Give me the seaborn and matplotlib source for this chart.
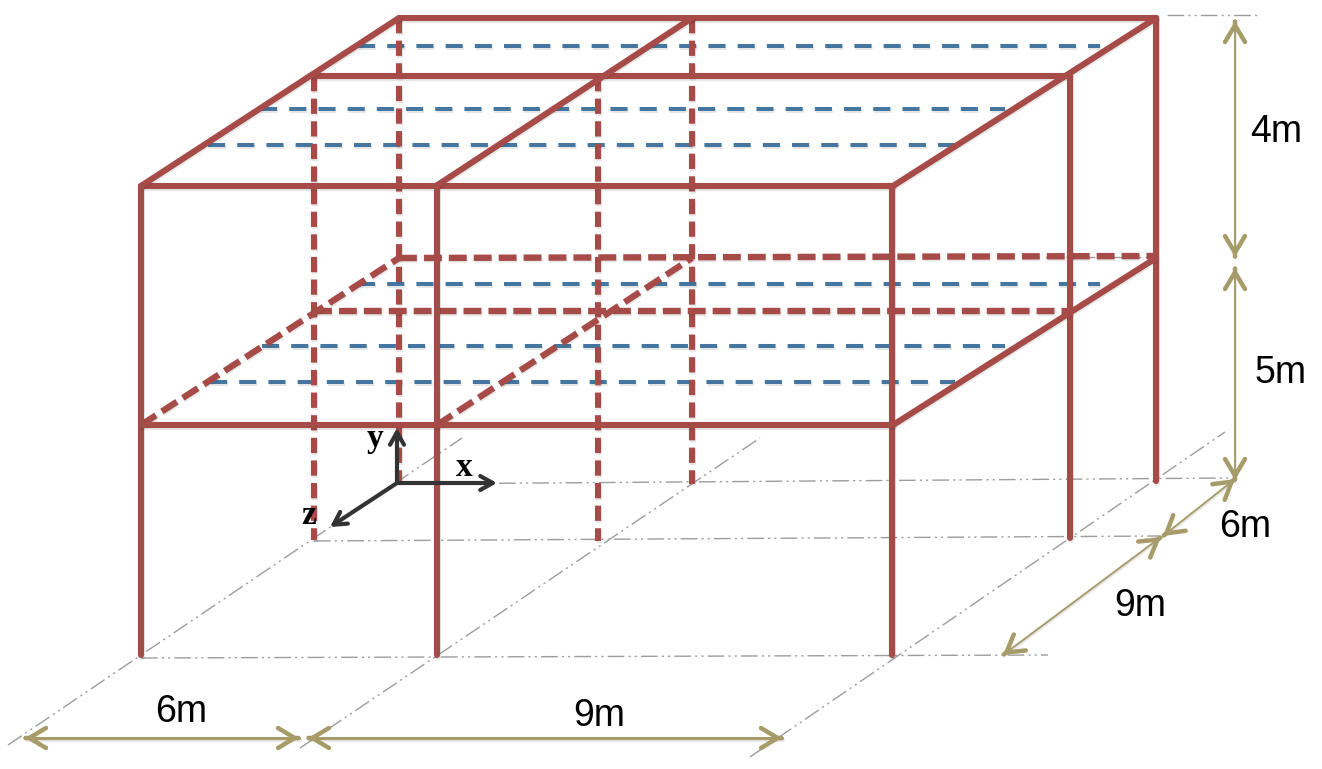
import matplotlib
matplotlib.use("Agg")
import matplotlib.pyplot as plt
import matplotlib.patheffects as pe
import pandas as pd
import seaborn as sns

# members, pixel positions as (x1, y1, x2, y2)
solid_members = [
    (399, 18, 1156, 18), (314, 76, 1070, 76), (141, 186, 893, 186),
    (141, 186, 399, 18), (436, 186, 692, 18), (893, 186, 1156, 18),
    (141, 186, 141, 655), (437, 186, 437, 655), (892, 186, 892, 655),
    (1070, 76, 1070, 538), (1156, 18, 1156, 481),
    (141, 425, 893, 425), (893, 425, 1156, 258),
]
hidden_columns = [
    (314, 76, 314, 540), (399, 18, 399, 482),
    (598, 76, 598, 541), (692, 18, 692, 484),
]
hidden_beams = [
    (399, 258, 1156, 256), (314, 311, 1070, 311),
    (141, 425, 399, 258), (437, 425, 692, 258),
]
secondary_beams = [
    (358, 46, 1100, 46), (260, 109, 1005, 109), (208, 145, 955, 145),
    (358, 284, 1100, 284), (262, 346, 1005, 346), (210, 382, 955, 382),
]
grid_lines = [
    (399, 484, 1230, 478), (314, 541, 1160, 536), (141, 658, 1048, 655),
    (8, 745, 462, 438), (300, 748, 760, 438), (750, 757, 1225, 432),
    (1167, 15, 1258, 15), (1045, 257, 1156, 257),
]
thin_dims = [(1235, 21, 1235, 257), (1235, 268, 1235, 480),
             (1235, 479, 1163, 536), (1161, 537, 1003, 655)]
thick_dims = [(25, 738, 299, 738), (308, 738, 782, 738)]
axis_arrows = [(397, 483, 397, 428), (397, 483, 497, 483), (397, 483, 330, 527)]

dim_labels = ["4m", "5m", "6m", "9m", "6m", "9m"]
dim_label_x = [1276, 1281, 1245, 1140, 181, 599]
dim_label_y = [132, 373, 527, 606, 712, 716]
axis_labels = ["y", "x", "z"]
axis_label_x = [375, 464, 309]
axis_label_y = [439, 467, 516]

RED = "#a64b48"
BLUE = "#44769f"
TAN = "#a79c69"
GREY = "#9c9c9c"
DARK = "#333333"


def to_frame(segments):
    rows = []
    for i, (x1, y1, x2, y2) in enumerate(segments):
        rows.append({"member": i, "order": 0, "x": x1, "y": y1})
        rows.append({"member": i, "order": 1, "x": x2, "y": y2})
    return pd.DataFrame(rows)


def draw(ax, segments, color, lw, ls="-", shadow=True):
    effects = []
    if shadow:
        effects = [pe.SimpleLineShadow(offset=(0.5, -1.2), alpha=0.1, shadow_color="k"), pe.Normal()]
    sns.lineplot(data=to_frame(segments), x="x", y="y", units="member", estimator=None,
                 sort=False, color=color, linewidth=lw, linestyle=ls, legend=False,
                 ax=ax, path_effects=effects)


def draw_head(ax, x_from, y_from, x_to, y_to):
    # chevron only, the shaft is drawn thinner by draw()
    length = ((x_to - x_from) ** 2 + (y_to - y_from) ** 2) ** 0.5
    ax.annotate("", xy=(x_to, y_to),
                xytext=(x_to - (x_to - x_from) / length, y_to - (y_to - y_from) / length),
                arrowprops=dict(arrowstyle="->,head_length=1.2,head_width=0.72", color=TAN,
                                lw=3.2, mutation_scale=10, shrinkA=0, shrinkB=0))


sns.set_theme(style="white")
plt.rcParams["font.family"] = ["Liberation Sans", "DejaVu Sans"]

fig = plt.figure(figsize=(13.22, 7.69), dpi=100)
ax = fig.add_axes([0, 0, 1, 1])

draw(ax, grid_lines, GREY, 1.0, (0, (12, 3, 1.5, 3, 1.5, 3)), shadow=False)
draw(ax, secondary_beams, BLUE, 2.9, (0, (4.25, 3.0)))
draw(ax, hidden_columns, RED, 4.4, (0, (2.5, 1.2)))
draw(ax, hidden_beams, RED, 4.6, (0, (2.8, 1.1)))
draw(ax, solid_members, RED, 4.4)

draw(ax, thin_dims, TAN, 1.4)
draw(ax, thick_dims, TAN, 2.2)
for x1, y1, x2, y2 in thin_dims + thick_dims:
    draw_head(ax, x1, y1, x2, y2)
    draw_head(ax, x2, y2, x1, y1)

for x1, y1, x2, y2 in axis_arrows:
    ax.annotate("", xy=(x2, y2), xytext=(x1, y1), arrowprops=dict(
        arrowstyle="->,head_length=0.75,head_width=0.42", color=DARK, lw=3,
        shrinkA=0, shrinkB=0))

for label, x, y in zip(dim_labels, dim_label_x, dim_label_y):
    ax.text(x, y, label, fontsize=27, color="black", ha="center", va="center")
for label, x, y in zip(axis_labels, axis_label_x, axis_label_y):
    ax.text(x, y, label, fontsize=24, color="black", ha="center", va="center",
            family="Liberation Serif", fontweight="bold")

ax.set_xlim(0, 1322)
ax.set_ylim(769, 0)
ax.axis("off")

fig.savefig("out.png", dpi=100, facecolor="white")
